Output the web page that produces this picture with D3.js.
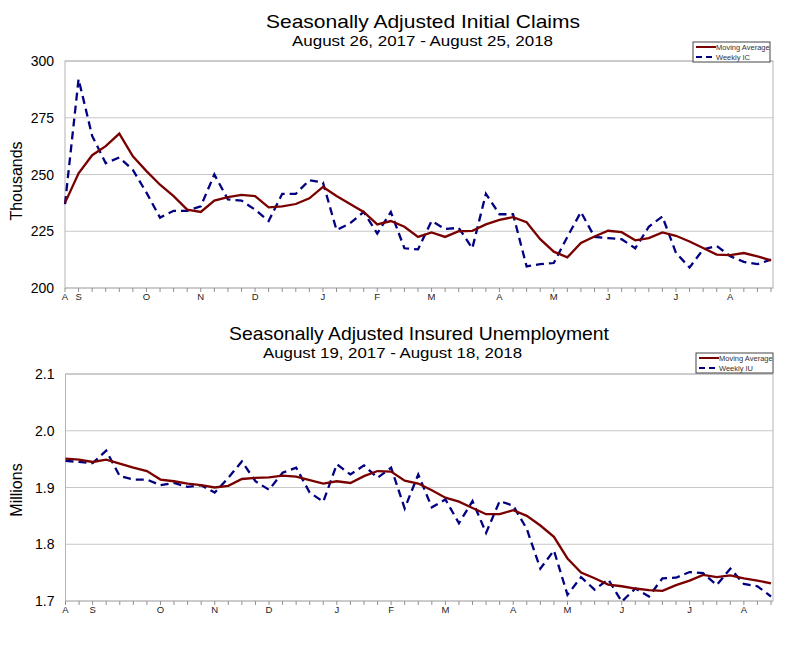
<!DOCTYPE html>
<html>
<head>
<meta charset="utf-8">
<script src="https://cdn.jsdelivr.net/npm/d3@7"></script>
<style>
  body { margin: 0; background: #fff; }
  text { font-family: Arial, "Liberation Sans", sans-serif; }
</style>
</head>
<body>
<div id="chart"></div>
<script>
// Initial claims (thousands), weeks Aug 26, 2017 .. Aug 25, 2018
var icWeekly = [237, 292, 267, 255, 257.5, 252, 242, 231, 234, 234, 236, 250, 239, 238.5, 234.5, 229.5,
  241.5, 241.5, 247.5, 246.5, 225.5, 228.5, 233.5, 224, 233.5, 217.5, 217, 229.5, 226, 226.5,
  217.5, 241.5, 232.5, 232.5, 209.5, 210.5, 211, 222.5, 233.5, 222.5, 222, 221.5, 217.5, 227,
  231.5, 215.5, 209, 217, 218.5, 214, 211.5, 210.5, 212.5];
var icAvg = [237.5, 250.5, 258.5, 262.5, 268, 258, 251.5, 245.5, 240.5, 234.5, 233.5, 238.5, 240, 241, 240.5, 235.5,
  236, 237, 239.5, 244.5, 240.5, 237, 233.5, 228, 229.5, 227, 222.5, 224.5, 222.5, 225,
  225.2, 228, 230, 231.2, 229, 221.5, 216, 213.5, 219.8, 222.7, 225.2, 224.6, 221, 222,
  224.5, 223, 220.5, 217.6, 214.7, 214.5, 215.4, 213.9, 212.2];

// Insured unemployment (millions), weeks Aug 19, 2017 .. Aug 18, 2018
var iuWeekly = [1.947, 1.945, 1.943, 1.965, 1.920, 1.914, 1.914, 1.904, 1.908, 1.901, 1.904, 1.891, 1.917, 1.946, 1.911, 1.896,
  1.926, 1.935, 1.891, 1.875, 1.941, 1.923, 1.939, 1.917, 1.935, 1.863, 1.923, 1.865, 1.879, 1.837,
  1.876, 1.820, 1.876, 1.868, 1.827, 1.757, 1.789, 1.711, 1.742, 1.720, 1.738, 1.699, 1.722, 1.708,
  1.740, 1.741, 1.751, 1.749, 1.728, 1.757, 1.730, 1.726, 1.708];
var iuAvg = [1.951, 1.949, 1.945, 1.949, 1.942, 1.935, 1.929, 1.914, 1.911, 1.907, 1.904, 1.900, 1.903, 1.915, 1.917, 1.918,
  1.921, 1.919, 1.913, 1.907, 1.911, 1.908, 1.920, 1.929, 1.928, 1.912, 1.907, 1.895, 1.882, 1.875,
  1.864, 1.853, 1.853, 1.860, 1.850, 1.833, 1.813, 1.775, 1.750, 1.740, 1.729, 1.726, 1.722, 1.719,
  1.718, 1.728, 1.736, 1.746, 1.742, 1.745, 1.740, 1.736, 1.731];

// month labels at week index (first Saturday of each month)
var icMonths = [[0, "A"], [1, "S"], [6, "O"], [10, "N"], [14, "D"], [19, "J"], [23, "F"], [27, "M"],
  [32, "A"], [36, "M"], [40, "J"], [45, "J"], [49, "A"]];
var iuMonths = [[0, "A"], [2, "S"], [7, "O"], [11, "N"], [15, "D"], [20, "J"], [24, "F"], [28, "M"],
  [33, "A"], [37, "M"], [41, "J"], [46, "J"], [50, "A"]];

var icTicks = [200, 225, 250, 275, 300];
var iuTicks = [1.7, 1.8, 1.9, 2.0, 2.1];

var svg = d3.select("#chart").append("svg")
  .attr("width", 800)
  .attr("height", 649);

function drawPanel(opt) {
  var g = svg.append("g");
  var x = d3.scaleLinear().domain([0, 52]).range([opt.left, opt.right - 2]);
  var y = d3.scaleLinear().domain(opt.domain).range([opt.bottom, opt.top]);

  // titles (the original image is a little stretched sideways)
  g.append("text").attr("x", opt.titleX).attr("y", opt.titleY)
    .attr("font-size", 18.5)
    .attr("textLength", opt.titleW).attr("lengthAdjust", "spacingAndGlyphs")
    .text(opt.title);
  g.append("text").attr("x", opt.subX).attr("y", opt.titleY + 18)
    .attr("font-size", 14.5)
    .attr("textLength", opt.subW).attr("lengthAdjust", "spacingAndGlyphs")
    .text(opt.subtitle);

  // gridlines
  g.selectAll(".grid").data(opt.ticks).enter().append("line")
    .attr("x1", opt.left).attr("x2", opt.right)
    .attr("y1", function(d) { return y(d); }).attr("y2", function(d) { return y(d); })
    .attr("stroke", "#c8c8c8").attr("stroke-width", 1);

  // frame
  g.append("rect").attr("x", opt.left).attr("y", opt.top)
    .attr("width", opt.right - opt.left).attr("height", opt.bottom - opt.top)
    .attr("fill", "none").attr("stroke", "#b4b4b4").attr("stroke-width", 1);

  // y axis labels
  g.selectAll(".ylab").data(opt.ticks).enter().append("text")
    .attr("x", opt.left - 11).attr("y", function(d) { return y(d) + 5; })
    .attr("text-anchor", "end").attr("font-size", 14)
    .text(opt.fmt);

  g.append("text")
    .attr("transform", "translate(22," + opt.yTitleY + ") rotate(-90)")
    .attr("text-anchor", "middle").attr("font-size", 16).text(opt.yTitle);

  // x ticks (weekly)
  g.selectAll(".xt").data(d3.range(0, 53)).enter().append("line")
    .attr("x1", function(d) { return x(d); }).attr("x2", function(d) { return x(d); })
    .attr("y1", opt.bottom).attr("y2", opt.bottom + 4)
    .attr("stroke", "#909090").attr("stroke-width", 1);

  g.selectAll(".xl").data(opt.months).enter().append("text")
    .attr("x", function(d) { return x(d[0]); }).attr("y", opt.bottom + 12)
    .attr("text-anchor", "middle").attr("font-size", 9.5).attr("fill", "#222")
    .text(function(d) { return d[1]; });

  var line = d3.line()
    .x(function(d, i) { return x(i); })
    .y(function(d) { return y(d); });

  g.append("path").datum(opt.weekly).attr("d", line)
    .attr("fill", "none").attr("stroke", "#000080").attr("stroke-width", 2.3)
    .attr("stroke-dasharray", "8,5");
  g.append("path").datum(opt.avg).attr("d", line)
    .attr("fill", "none").attr("stroke", "#7a0000").attr("stroke-width", 2.3);

  // legend
  var lx = opt.legendX, ly = opt.legendY;
  g.append("rect").attr("x", lx).attr("y", ly).attr("width", 77).attr("height", 20)
    .attr("fill", "#fff").attr("stroke", "#444").attr("stroke-width", 1);
  g.append("line").attr("x1", lx + 3).attr("x2", lx + 23).attr("y1", ly + 5).attr("y2", ly + 5)
    .attr("stroke", "#7a0000").attr("stroke-width", 2);
  g.append("line").attr("x1", lx + 3).attr("x2", lx + 23).attr("y1", ly + 15).attr("y2", ly + 15)
    .attr("stroke", "#000080").attr("stroke-width", 2).attr("stroke-dasharray", "6,4");
  g.append("text").attr("x", lx + 23).attr("y", ly + 7.5).attr("font-size", 7.5)
    .attr("fill", "#333").text("Moving Average");
  g.append("text").attr("x", lx + 23).attr("y", ly + 17.5).attr("font-size", 7.5)
    .attr("fill", "#333").text(opt.legendLabel);
}

drawPanel({
  left: 65, right: 773, top: 61, bottom: 288,
  domain: [200, 300], ticks: icTicks, fmt: function(d) { return d; },
  title: "Seasonally Adjusted Initial Claims",
  subtitle: "August 26, 2017 - August 25, 2018",
  titleX: 266, titleW: 314, subX: 292, subW: 261,
  titleY: 28, yTitle: "Thousands", yTitleY: 181,
  weekly: icWeekly, avg: icAvg, months: icMonths,
  legendX: 693, legendY: 42, legendLabel: "Weekly IC"
});

drawPanel({
  left: 65.5, right: 773, top: 374, bottom: 601,
  domain: [1.7, 2.1], ticks: iuTicks, fmt: d3.format(".1f"),
  title: "Seasonally Adjusted Insured Unemployment",
  subtitle: "August 19, 2017 - August 18, 2018",
  titleX: 229, titleW: 380, subX: 263, subW: 259,
  titleY: 340, yTitle: "Millions", yTitleY: 490,
  weekly: iuWeekly, avg: iuAvg, months: iuMonths,
  legendX: 696, legendY: 353, legendLabel: "Weekly IU"
});
</script>
</body>
</html>
